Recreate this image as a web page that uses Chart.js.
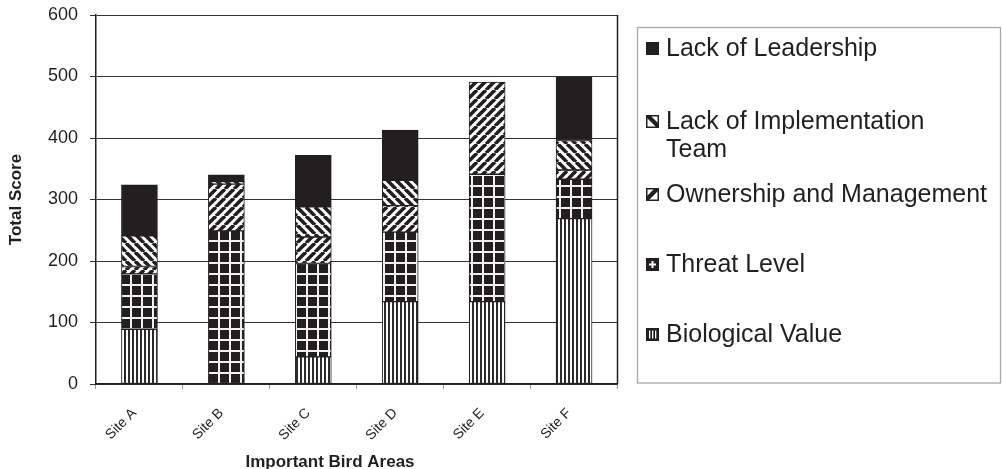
<!DOCTYPE html>
<html>
<head>
<meta charset="utf-8">
<script src="https://cdn.jsdelivr.net/npm/chart.js@4/dist/chart.umd.min.js"></script>
<style>
  html, body { margin: 0; padding: 0; background: #fff; }
  #wrap { width: 1002px; height: 469px; position: relative; }
</style>
</head>
<body>
<div id="wrap"><canvas id="chart"></canvas></div>
<script>
// data (stack order bottom -> top)
const sites = ['Site A', 'Site B', 'Site C', 'Site D', 'Site E', 'Site F'];
const biologicalValue = [89, 0, 44, 134, 134, 269];
const threatLevel = [90, 249, 152, 113, 207, 64];
const ownershipMgmt = [12, 76, 43, 43, 150, 15];
const lackImplementation = [50, 4, 49, 41, 0, 48];
const lackLeadership = [83, 11, 84, 82, 0, 103];
const yTicks = [0, 100, 200, 300, 400, 500, 600];

const INK = '#231f20';
const FONT = '"Liberation Sans", Arial, Helvetica, sans-serif';

function makePattern(size, draw) {
  const c = document.createElement('canvas');
  c.width = size;
  c.height = size;
  const g = c.getContext('2d');
  draw(g, size);
  return g.createPattern(c, 'repeat');
}

const stripes = makePattern(4, (g) => {
  g.fillStyle = '#fff';
  g.fillRect(0, 0, 4, 4);
  g.fillStyle = '#2a2a2a';
  g.fillRect(0, 0, 2, 4);
});

const grid = makePattern(11, (g) => {
  g.fillStyle = INK;
  g.fillRect(0, 0, 11, 11);
  g.fillStyle = '#f2f2f2';
  g.fillRect(0, 9, 11, 2);
  g.fillRect(9, 0, 2, 11);
});

function hatch(forward) {
  return makePattern(9, (g, s) => {
    g.fillStyle = '#fff';
    g.fillRect(0, 0, s, s);
    g.strokeStyle = INK;
    g.lineWidth = 3.6;
    for (const x0 of [-s, 0, s]) {
      g.beginPath();
      if (forward) {
        g.moveTo(x0, s);
        g.lineTo(x0 + s, 0);
      } else {
        g.moveTo(x0, 0);
        g.lineTo(x0 + s, s);
      }
      g.stroke();
    }
  });
}

// small legend icons, 13px squares
function iconSolid(ctx, x, y) {
  ctx.fillStyle = INK;
  ctx.fillRect(x, y, 13, 13);
}
function iconDiag(forward) {
  return (ctx, x, y) => {
    ctx.fillStyle = '#fff';
    ctx.fillRect(x, y, 13, 13);
    ctx.save();
    ctx.beginPath();
    ctx.rect(x, y, 13, 13);
    ctx.clip();
    ctx.fillStyle = INK;
    ctx.beginPath();
    if (forward) {
      ctx.moveTo(x, y + 13);
      ctx.lineTo(x, y + 9);
      ctx.lineTo(x + 9, y);
      ctx.lineTo(x + 13, y);
      ctx.lineTo(x + 13, y + 2);
      ctx.lineTo(x + 2, y + 13);
    } else {
      ctx.moveTo(x, y);
      ctx.lineTo(x + 4, y);
      ctx.lineTo(x + 13, y + 9);
      ctx.lineTo(x + 13, y + 13);
      ctx.lineTo(x + 11, y + 13);
      ctx.lineTo(x, y + 2);
    }
    ctx.closePath();
    ctx.fill();
    ctx.restore();
    ctx.strokeStyle = INK;
    ctx.lineWidth = 1.5;
    ctx.strokeRect(x + 0.75, y + 0.75, 11.5, 11.5);
  };
}
function iconPlus(ctx, x, y) {
  ctx.fillStyle = INK;
  ctx.fillRect(x, y, 13, 13);
  ctx.fillStyle = '#fff';
  ctx.fillRect(x + 5.5, y + 3, 2, 7);
  ctx.fillRect(x + 3, y + 5.5, 7, 2);
}
function iconBars(ctx, x, y) {
  ctx.fillStyle = INK;
  ctx.fillRect(x, y, 13, 13);
  ctx.fillStyle = '#fff';
  for (const dx of [3, 6, 9]) ctx.fillRect(x + dx, y + 2.5, 1.3, 8);
}

const seriesDefs = [
  { label: 'Biological Value', data: biologicalValue, fill: stripes, icon: iconBars },
  { label: 'Threat Level', data: threatLevel, fill: grid, icon: iconPlus },
  { label: 'Ownership and Management', data: ownershipMgmt, fill: hatch(true), icon: iconDiag(true) },
  { label: ['Lack of Implementation', 'Team'], data: lackImplementation, fill: hatch(false), icon: iconDiag(false) },
  { label: 'Lack of Leadership', data: lackLeadership, fill: INK, icon: iconSolid },
];

// boxed legend on the right, plot frame edge and x title
const extras = {
  id: 'extras',
  afterDraw(chart) {
    const { ctx } = chart;
    ctx.save();
    ctx.strokeStyle = '#a8a8a8';
    ctx.lineWidth = 1.3;
    ctx.strokeRect(637.5, 27.5, 363, 355.5);

    const baselines = [56, 129, 202, 272, 342];
    const items = seriesDefs.slice().reverse();
    ctx.font = `25px ${FONT}`;
    ctx.textBaseline = 'alphabetic';
    ctx.textAlign = 'left';
    items.forEach((s, i) => {
      const y = baselines[i];
      s.icon(ctx, 646, y - 14);
      ctx.fillStyle = INK;
      const lines = Array.isArray(s.label) ? s.label : [s.label];
      lines.forEach((t, k) => ctx.fillText(t, 666, y + k * 28));
    });

    const a = chart.chartArea;
    ctx.strokeStyle = INK;
    ctx.lineWidth = 1.5;
    ctx.beginPath();
    ctx.moveTo(a.right, a.top);
    ctx.lineTo(a.right, a.bottom);
    ctx.stroke();

    ctx.fillStyle = INK;
    ctx.font = `bold 17px ${FONT}`;
    ctx.textAlign = 'center';
    ctx.fillText('Important Bird Areas', 330, 467);
    ctx.restore();
  },
};

new Chart(document.getElementById('chart'), {
  type: 'bar',
  data: {
    labels: sites,
    datasets: seriesDefs.map((s) => ({
      label: Array.isArray(s.label) ? s.label.join(' ') : s.label,
      data: s.data,
      backgroundColor: s.fill,
      borderColor: INK,
      borderWidth: 1,
      borderSkipped: false,
      barThickness: 36,
    })),
  },
  options: {
    responsive: true,
    maintainAspectRatio: false,
    animation: false,
    layout: { autoPadding: false, padding: { left: 0, top: 15, right: 384.5, bottom: 0 } },
    plugins: {
      legend: { display: false },
      tooltip: { enabled: false },
    },
    scales: {
      x: {
        stacked: true,
        afterFit: (scale) => {
          scale.height = 85;
          scale.paddingLeft = 0;
          scale.paddingRight = 0;
        },
        grid: { drawOnChartArea: false, drawTicks: true, tickLength: 5, color: '#999' },
        border: { color: INK, width: 1.5 },
        ticks: {
          minRotation: 45,
          maxRotation: 45,
          padding: 16,
          labelOffset: -5,
          color: INK,
          font: { family: FONT, size: 14 },
        },
      },
      y: {
        stacked: true,
        min: 0,
        max: 600,
        afterFit: (scale) => {
          scale.width = 96;
          scale.paddingTop = 0;
          scale.paddingBottom = 0;
        },
        afterBuildTicks: (scale) => { scale.ticks = yTicks.map((v) => ({ value: v })); },
        grid: { color: '#333', lineWidth: 1, drawTicks: true, tickLength: 6 },
        border: { color: INK, width: 1.5 },
        ticks: {
          padding: 12,
          color: INK,
          font: { family: FONT, size: 18 },
        },
        title: {
          display: true,
          text: 'Total Score',
          color: INK,
          padding: { top: 6, bottom: 0 },
          font: { family: FONT, size: 17, weight: 'bold' },
        },
      },
    },
  },
  plugins: [extras],
});
</script>
</body>
</html>
